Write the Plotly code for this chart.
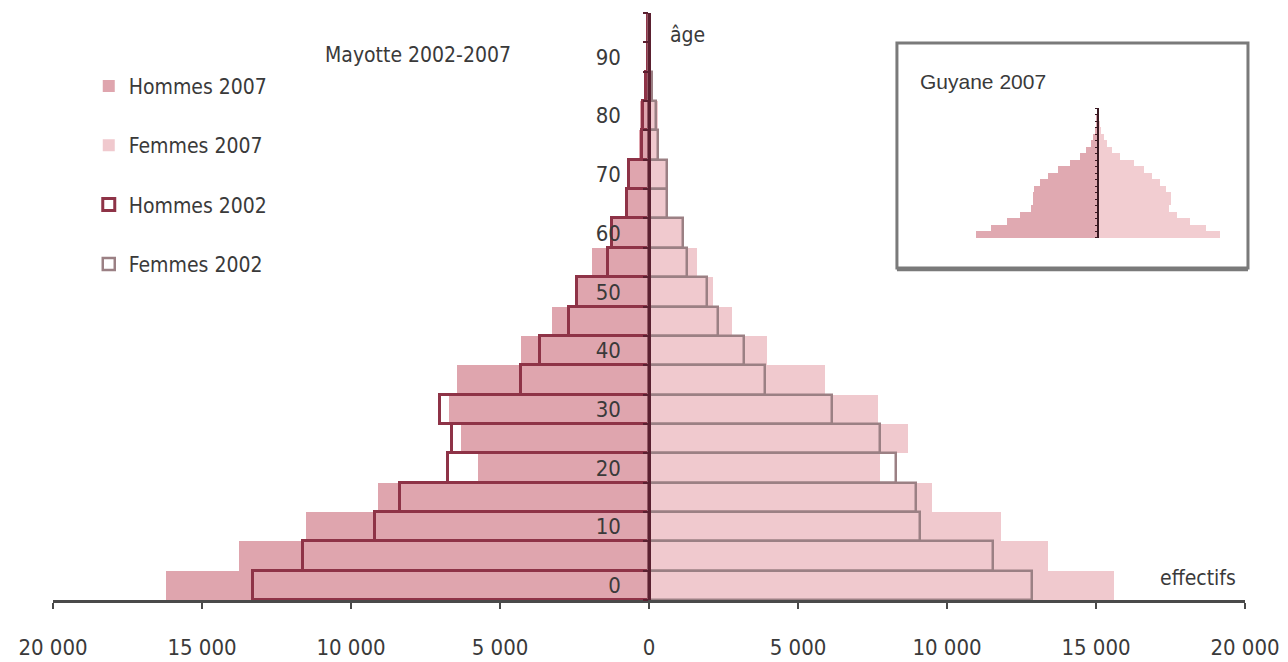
import plotly.graph_objects as go

# ---------------- data ----------------
age_groups = [0, 5, 10, 15, 20, 25, 30, 35, 40, 45, 50, 55, 60, 65, 70, 75, 80, 85, 90, 95]
age_tick_vals = [0, 10, 20, 30, 40, 50, 60, 70, 80, 90]
age_tick_text = ["0", "10", "20", "30", "40", "50", "60", "70", "80", "90"]

# Mayotte (effectifs)
hommes_2007 = [16200, 13750, 11500, 9100, 5750, 6300, 6700, 6450, 4300, 3250,
               2450, 1900, 1300, 750, 700, 350, 300, 150, 60, 20]
femmes_2007 = [15600, 13400, 11800, 9500, 7750, 8700, 7700, 5900, 3950, 2800,
               2150, 1600, 1150, 650, 600, 350, 300, 120, 50, 20]
hommes_2002 = [13300, 11600, 9200, 8350, 6750, 6600, 7000, 4300, 3650, 2700,
               2400, 1370, 1240, 740, 670, 250, 200, 100, 50, 20]
femmes_2002 = [12850, 11550, 9100, 8950, 8300, 7750, 6150, 3900, 3200, 2300,
               1950, 1270, 1150, 620, 600, 300, 250, 100, 40, 20]

# Guyane 2007 (inset)
guyane_hommes = [14600, 12800, 10900, 9400, 8000, 7800, 7800, 7700, 7000, 6000,
                 4800, 3400, 2200, 1400, 850, 600, 360, 240, 120, 60]
guyane_femmes = [14700, 13000, 11000, 9500, 8500, 8800, 8800, 8200, 7400, 6500,
                 5500, 4300, 2600, 1700, 1100, 700, 360, 240, 120, 60]

x_tick_vals = [-20000, -15000, -10000, -5000, 0, 5000, 10000, 15000, 20000]
x_tick_text = ["20 000", "15 000", "10 000", "5 000", "0", "5 000", "10 000", "15 000", "20 000"]

# ---------------- styles ----------------
NARROW = "Liberation Sans Narrow, DejaVu Sans Condensed, Arial Narrow, sans-serif"
TXT = "#3a3a3a"
C_H07 = "#dfa5ae"
C_F07 = "#f0c9ce"
C_H02 = "#8e3347"
C_F02 = "#9b8084"

fig = go.Figure()

fig.add_trace(go.Bar(
    y=age_groups, x=[-v for v in hommes_2007], orientation="h", width=5,
    name="Hommes 2007", legendgroup="a",
    marker=dict(color=C_H07, line=dict(width=0)),
))
fig.add_trace(go.Bar(
    y=age_groups, x=femmes_2007, orientation="h", width=5,
    name="Femmes 2007", legendgroup="b",
    marker=dict(color=C_F07, line=dict(width=0)),
))
fig.add_trace(go.Bar(
    y=age_groups, x=[-v for v in hommes_2002], orientation="h", width=5,
    name="Hommes 2002", legendgroup="c",
    marker=dict(color="rgba(0,0,0,0)", line=dict(color=C_H02, width=3)),
))
fig.add_trace(go.Bar(
    y=age_groups, x=femmes_2002, orientation="h", width=5,
    name="Femmes 2002", legendgroup="d",
    marker=dict(color="rgba(0,0,0,0)", line=dict(color=C_F02, width=2.5)),
))

# inset
inset_y = [a + 2.5 for a in age_groups]
fig.add_trace(go.Bar(
    y=inset_y, x=[-v for v in guyane_hommes], orientation="h", width=5,
    xaxis="x2", yaxis="y2", showlegend=False,
    marker=dict(color="#e0a9b1", line=dict(width=0)),
))
fig.add_trace(go.Bar(
    y=inset_y, x=guyane_femmes, orientation="h", width=5,
    xaxis="x2", yaxis="y2", showlegend=False,
    marker=dict(color="#f2cdd1", line=dict(width=0)),
))

inset_x0, inset_x1 = 0.7718, 0.9815

# the page body has an 8px margin: compensate so the plot area lands at x 53-1245, y 13-600
fig.update_layout(
    width=1288, height=662,
    margin=dict(l=45, r=51, t=5, b=70, autoexpand=False),
    paper_bgcolor="white", plot_bgcolor="white",
    barmode="overlay", bargap=0,
    font=dict(family=NARROW, size=21, color=TXT),
    xaxis=dict(
        range=[-20000, 20000], tickvals=x_tick_vals, ticktext=x_tick_text,
        showgrid=False, zeroline=False, showline=True, linecolor="#4a4a4a", linewidth=2.5,
        ticks="outside", ticklen=6, tickwidth=2, tickcolor="#4a4a4a",
        tickfont=dict(size=22, color=TXT), ticklabelstandoff=20,
    ),
    yaxis=dict(
        range=[-2.5, 97.5], anchor="free", position=0.5,
        tickvals=age_tick_vals, ticktext=age_tick_text, ticks="",
        showgrid=False, zeroline=False, showline=True, linecolor="#5a2030", linewidth=2.5,
        minor=dict(tickvals=[a - 2.5 for a in age_groups] + [97.5], ticks="outside",
                   ticklen=5, tickwidth=2, tickcolor="#5a2030"),
        tickfont=dict(size=22, color=TXT), ticklabelstandoff=23,
    ),
    xaxis2=dict(domain=[inset_x0, inset_x1], anchor="y2", range=[-15000, 15000], visible=False),
    yaxis2=dict(domain=[0.6167, 0.838], anchor="free", position=(inset_x0 + inset_x1) / 2,
                range=[0, 100], showgrid=False, zeroline=False, showline=True,
                linecolor="#3a1a22", linewidth=2, ticks="outside", ticklen=2, dtick=5,
                tickcolor="#3a1a22", showticklabels=False),
    legend=dict(
        x=0.030, y=0.910, xanchor="left", yanchor="top",
        traceorder="grouped", tracegroupgap=29,
        font=dict(family=NARROW, size=21, color=TXT),
        bgcolor="rgba(0,0,0,0)",
    ),
    shapes=[
        dict(type="rect", xref="paper", yref="paper", x0=0.708, x1=1.0025, y0=0.5656, y1=0.949,
             line=dict(color="#7a7a7a", width=3), fillcolor="rgba(0,0,0,0)", layer="below"),
        dict(type="line", xref="paper", yref="paper", x0=0.708, x1=1.0025, y0=0.5636, y1=0.5636,
             line=dict(color="#7a7a7a", width=4), layer="below"),
    ],
    annotations=[
        dict(text="Mayotte 2002-2007", xref="paper", yref="paper", x=0.306, y=0.928,
             xanchor="center", yanchor="middle",
             showarrow=False, font=dict(family=NARROW, size=21, color=TXT)),
        dict(text="âge", xref="paper", yref="paper", x=0.516, y=0.9625, xanchor="left",
             yanchor="middle",
             showarrow=False, font=dict(family=NARROW, size=21, color=TXT)),
        dict(text="effectifs", xref="paper", yref="paper", x=0.9606, y=0.0375,
             xanchor="center", yanchor="middle",
             showarrow=False, font=dict(family=NARROW, size=21, color=TXT)),
        dict(text="Guyane 2007", xref="paper", yref="paper", x=0.7257, y=0.8825, xanchor="left",
             yanchor="middle",
             showarrow=False, font=dict(family="Liberation Sans, Arial, sans-serif", size=21, color=TXT)),
    ],
)

fig.write_html("out.html")
